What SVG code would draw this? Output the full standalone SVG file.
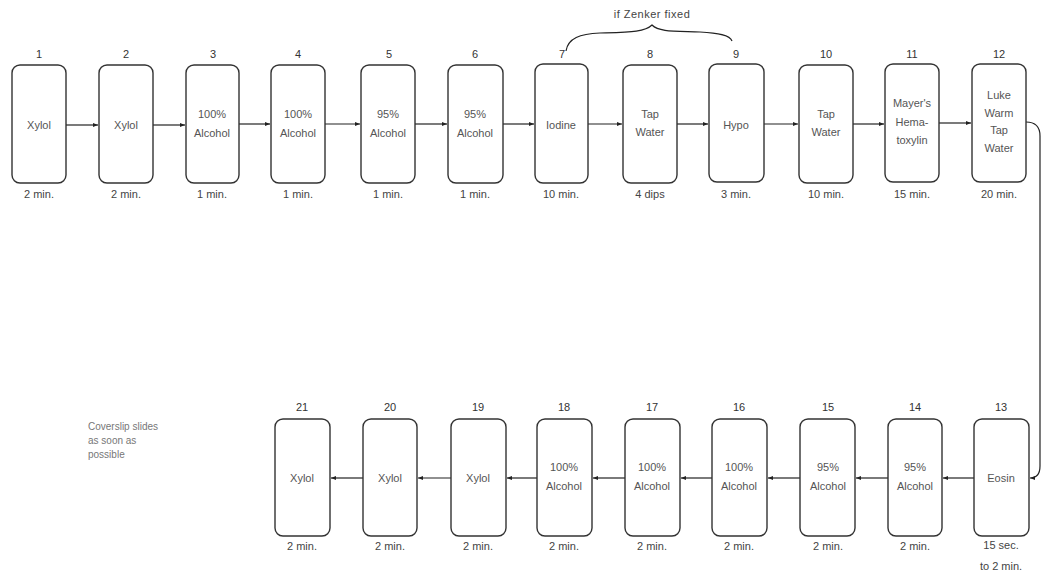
<svg xmlns="http://www.w3.org/2000/svg" width="1041" height="576" viewBox="0 0 1041 576">
<defs>
<marker id="ah" viewBox="0 0 10 10" refX="10" refY="5" markerWidth="7" markerHeight="5" orient="auto" markerUnits="userSpaceOnUse">
<path d="M0,1 L10,5 L0,9 z" fill="#222"/>
</marker>
<style>
.box{fill:#fff;stroke:#333;stroke-width:1.4}
.num{font-family:"Liberation Sans",Arial,sans-serif;font-size:11px;fill:#333;text-anchor:middle}
.lbl{font-family:"Liberation Sans",Arial,sans-serif;font-size:11px;fill:#555;text-anchor:middle}
.tm{font-family:"Liberation Sans",Arial,sans-serif;font-size:11px;fill:#444;text-anchor:middle}
.note{font-family:"Liberation Sans",Arial,sans-serif;font-size:10px;fill:#777}
.c{fill:none;stroke:#222;stroke-width:1.2}
</style>
</defs>
<rect width="1041" height="576" fill="#fff"/>

<g id="brace">
<text class="tm" x="652" y="18" letter-spacing="0.5">if Zenker fixed</text>
<path class="c" d="M566,51 C568,38 580,34 600,33 C630,32 645,32 652,25 C659,32 674,31 700,32 C718,33 730,35 732,41" stroke-width="1"/>
</g>

<g id="connectors">
<line class="c" x1="66" y1="125" x2="98" y2="125" marker-end="url(#ah)"/>
<line class="c" x1="153" y1="125" x2="185" y2="125" marker-end="url(#ah)"/>
<line class="c" x1="239" y1="124" x2="270" y2="124" marker-end="url(#ah)"/>
<line class="c" x1="325" y1="124" x2="360" y2="124" marker-end="url(#ah)"/>
<line class="c" x1="415" y1="124" x2="447" y2="124" marker-end="url(#ah)"/>
<line class="c" x1="503" y1="124" x2="534" y2="124" marker-end="url(#ah)"/>
<line class="c" x1="588" y1="124" x2="622" y2="124" marker-end="url(#ah)"/>
<line class="c" x1="677" y1="124" x2="708" y2="124" marker-end="url(#ah)"/>
<line class="c" x1="764" y1="124" x2="798" y2="124" marker-end="url(#ah)"/>
<line class="c" x1="853" y1="124" x2="884" y2="124" marker-end="url(#ah)"/>
<line class="c" x1="939" y1="123" x2="971" y2="123" marker-end="url(#ah)"/>
<path class="c" d="M1026,122 Q1040,122 1040,136 L1040,466 Q1040,478 1030,478" marker-end="url(#ah)"/>
<line class="c" x1="974" y1="478" x2="943" y2="478" marker-end="url(#ah)"/>
<line class="c" x1="888" y1="478" x2="856" y2="478" marker-end="url(#ah)"/>
<line class="c" x1="800" y1="478" x2="768" y2="478" marker-end="url(#ah)"/>
<line class="c" x1="712" y1="478" x2="681" y2="478" marker-end="url(#ah)"/>
<line class="c" x1="625" y1="478" x2="593" y2="478" marker-end="url(#ah)"/>
<line class="c" x1="537" y1="478" x2="507" y2="478" marker-end="url(#ah)"/>
<line class="c" x1="451" y1="478" x2="418" y2="478" marker-end="url(#ah)"/>
<line class="c" x1="363" y1="478" x2="331" y2="478" marker-end="url(#ah)"/>
</g>

<g id="n1"><text class="num" x="39" y="58">1</text><rect class="box" x="12" y="65" width="54" height="118" rx="8"/><text class="lbl" x="39" y="129">Xylol</text><text class="tm" x="39" y="198">2 min.</text></g>
<g id="n2"><text class="num" x="126" y="58">2</text><rect class="box" x="99" y="65" width="54" height="118" rx="8"/><text class="lbl" x="126" y="129">Xylol</text><text class="tm" x="126" y="198">2 min.</text></g>
<g id="n3"><text class="num" x="213" y="58">3</text><rect class="box" x="186" y="65" width="53" height="118" rx="8"/><text class="lbl" x="212" y="118">100%</text><text class="lbl" x="212" y="137">Alcohol</text><text class="tm" x="212" y="198">1 min.</text></g>
<g id="n4"><text class="num" x="298" y="58">4</text><rect class="box" x="271" y="65" width="54" height="118" rx="8"/><text class="lbl" x="298" y="118">100%</text><text class="lbl" x="298" y="137">Alcohol</text><text class="tm" x="298" y="198">1 min.</text></g>
<g id="n5"><text class="num" x="389" y="58">5</text><rect class="box" x="361" y="65" width="54" height="118" rx="8"/><text class="lbl" x="388" y="118">95%</text><text class="lbl" x="388" y="137">Alcohol</text><text class="tm" x="388" y="198">1 min.</text></g>
<g id="n6"><text class="num" x="475" y="58">6</text><rect class="box" x="448" y="65" width="55" height="118" rx="8"/><text class="lbl" x="475" y="118">95%</text><text class="lbl" x="475" y="137">Alcohol</text><text class="tm" x="475" y="198">1 min.</text></g>
<g id="n7"><text class="num" x="562" y="58">7</text><rect class="box" x="535" y="64" width="53" height="119" rx="8"/><text class="lbl" x="561" y="129">Iodine</text><text class="tm" x="561" y="198">10 min.</text></g>
<g id="n8"><text class="num" x="650" y="58">8</text><rect class="box" x="623" y="65" width="54" height="118" rx="8"/><text class="lbl" x="650" y="118">Tap</text><text class="lbl" x="650" y="136">Water</text><text class="tm" x="650" y="198">4 dips</text></g>
<g id="n9"><text class="num" x="736" y="58">9</text><rect class="box" x="709" y="64" width="55" height="118" rx="8"/><text class="lbl" x="736" y="129">Hypo</text><text class="tm" x="736" y="198">3 min.</text></g>
<g id="n10"><text class="num" x="826" y="58">10</text><rect class="box" x="799" y="65" width="54" height="118" rx="8"/><text class="lbl" x="826" y="118">Tap</text><text class="lbl" x="826" y="136">Water</text><text class="tm" x="826" y="198">10 min.</text></g>
<g id="n11"><text class="num" x="912" y="58">11</text><rect class="box" x="885" y="64" width="54" height="118" rx="8"/><text class="lbl" x="912" y="107">Mayer's</text><text class="lbl" x="912" y="126">Hema-</text><text class="lbl" x="912" y="144">toxylin</text><text class="tm" x="912" y="198">15 min.</text></g>
<g id="n12"><text class="num" x="999" y="58">12</text><rect class="box" x="972" y="64" width="54" height="118" rx="8"/><text class="lbl" x="999" y="99">Luke</text><text class="lbl" x="999" y="117">Warm</text><text class="lbl" x="999" y="134">Tap</text><text class="lbl" x="999" y="152">Water</text><text class="tm" x="999" y="198">20 min.</text></g>

<g id="n13"><text class="num" x="1001" y="411">13</text><rect class="box" x="974" y="419" width="55" height="117" rx="8"/><text class="lbl" x="1001" y="482">Eosin</text><text class="tm" x="1001" y="549">15 sec.</text><text class="tm" x="1001" y="570">to 2 min.</text></g>
<g id="n14"><text class="num" x="915" y="411">14</text><rect class="box" x="888" y="419" width="54" height="117" rx="8"/><text class="lbl" x="915" y="471">95%</text><text class="lbl" x="915" y="490">Alcohol</text><text class="tm" x="915" y="550">2 min.</text></g>
<g id="n15"><text class="num" x="828" y="411">15</text><rect class="box" x="800" y="419" width="55" height="117" rx="8"/><text class="lbl" x="828" y="471">95%</text><text class="lbl" x="828" y="490">Alcohol</text><text class="tm" x="828" y="550">2 min.</text></g>
<g id="n16"><text class="num" x="739" y="411">16</text><rect class="box" x="712" y="419" width="55" height="117" rx="8"/><text class="lbl" x="739" y="471">100%</text><text class="lbl" x="739" y="490">Alcohol</text><text class="tm" x="739" y="550">2 min.</text></g>
<g id="n17"><text class="num" x="652" y="411">17</text><rect class="box" x="625" y="419" width="55" height="117" rx="8"/><text class="lbl" x="652" y="471">100%</text><text class="lbl" x="652" y="490">Alcohol</text><text class="tm" x="652" y="550">2 min.</text></g>
<g id="n18"><text class="num" x="564" y="411">18</text><rect class="box" x="537" y="419" width="55" height="117" rx="8"/><text class="lbl" x="564" y="471">100%</text><text class="lbl" x="564" y="490">Alcohol</text><text class="tm" x="564" y="550">2 min.</text></g>
<g id="n19"><text class="num" x="478" y="411">19</text><rect class="box" x="451" y="419" width="55" height="117" rx="8"/><text class="lbl" x="478" y="482">Xylol</text><text class="tm" x="478" y="550">2 min.</text></g>
<g id="n20"><text class="num" x="390" y="411">20</text><rect class="box" x="363" y="419" width="54" height="117" rx="8"/><text class="lbl" x="390" y="482">Xylol</text><text class="tm" x="390" y="550">2 min.</text></g>
<g id="n21"><text class="num" x="302" y="411">21</text><rect class="box" x="275" y="419" width="55" height="117" rx="8"/><text class="lbl" x="302" y="482">Xylol</text><text class="tm" x="302" y="550">2 min.</text></g>

<g id="note"><text class="note" x="88" y="430">Coverslip slides</text><text class="note" x="88" y="444">as soon as</text><text class="note" x="88" y="458">possible</text></g>
</svg>
